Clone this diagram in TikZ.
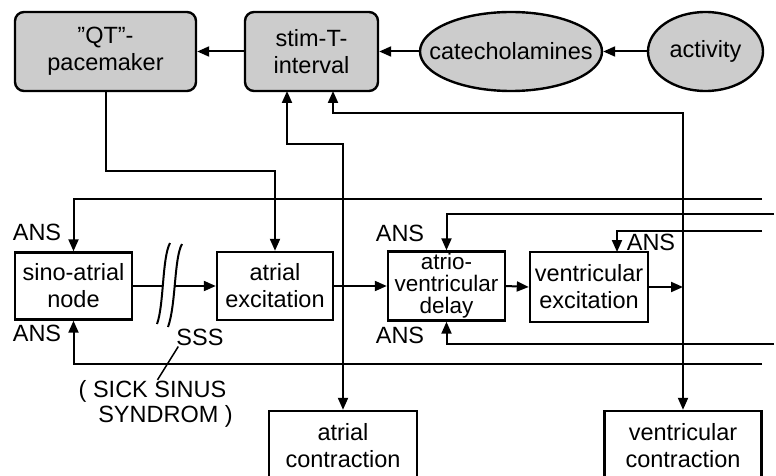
\documentclass[tikz,border=0pt]{standalone}
\usepackage{fontspec}
\setmainfont{Liberation Sans}
\usetikzlibrary{arrows.meta,shapes.geometric,calc}
\begin{document}
\begin{tikzpicture}[x=1pt,y=-1pt,
  font=\fontsize{23.5}{27}\selectfont,
  box/.style={draw,line width=2.4pt,rectangle,align=center,inner sep=0pt},
  gbox/.style={box,rounded corners=9pt,fill=gray!40},
  goval/.style={draw,line width=2.4pt,ellipse,fill=gray!40,inner sep=0pt},
  wire/.style={line width=2pt},
  arr/.style={wire,-{Triangle[length=12pt,width=10pt]}},
  lbl/.style={inner sep=0pt}]
\useasboundingbox (0,0) rectangle (776,476);
\clip (0,0) rectangle (776,476);

% upper control loop
\node[gbox,minimum width=181pt,minimum height=79pt] (qt) at (105.5,51.5) {\symbol{34}QT\symbol{34}-\\pacemaker};
\node[gbox,minimum width=133pt,minimum height=79pt] (stim) at (311.5,51.5) {stim-T-\\interval};
\node[goval,minimum width=182pt,minimum height=79pt] (cat) at (511,51.5) {\makebox[100pt]{catecholamines}};
\node[goval,minimum width=115pt,minimum height=79pt] (act) at (705.5,51.5) {\makebox[60pt]{activity}};

% conduction chain
\node[box,minimum width=117pt,minimum height=67pt] (sa) at (73.5,286) {sino-atrial\\node};
\node[box,minimum width=116pt,minimum height=68pt] (ae) at (275,286) {atrial\\excitation};
\node[box,minimum width=117pt,minimum height=69pt,font=\fontsize{22.5}{22}\selectfont] (av) at (446.5,286) {atrio-\\ventricular\\delay};
\node[box,minimum width=118pt,minimum height=70pt] (ve) at (589,287) {ventricular\\excitation};
\node[box,minimum width=148pt,minimum height=70pt] (ac) at (343,446) {atrial\\contraction};
\node[box,minimum width=157pt,minimum height=70pt] (vc) at (683,446) {ventricular\\contraction};

% labels
\node[lbl] (ans1) at (37,232) {ANS};
\node[lbl] (ans2) at (37,333) {ANS};
\node[lbl] (ans3) at (400,233) {ANS};
\node[lbl] (ans4) at (400,335) {ANS};
\node[lbl] (ans5) at (651,242) {ANS};
\node[lbl] (sss) at (200,337) {SSS};
\node[lbl] (sick1) at (152.5,391) {( SICK SINUS};
\node[lbl] (sick2) at (165.5,416) {SYNDROM )};

% coordinates of bends and junctions
\coordinate (b1) at (105.5,171);
\coordinate (j1) at (343,286);
\coordinate (k1) at (287,144);
\coordinate (si1) at (287,91);
\coordinate (j2) at (683,287);
\coordinate (k2) at (333,113);
\coordinate (si2) at (333,91);
\coordinate (g1) at (163,286);
\coordinate (g2) at (174,286);
\coordinate (r1) at (762,199);
\coordinate (r2) at (774,214);
\coordinate (r3) at (762,231);
\coordinate (vein) at (617,252);
\coordinate (r4) at (774,344);
\coordinate (r5) at (762,364);

% top arrows
\draw[arr] (act.west) -- (cat.east);
\draw[arr] (cat.west) -- (stim.east);
\draw[arr] (stim.west) -- (qt.east);
\draw[arr] (qt.south) -- (b1) -| (ae.north);

% atrial output
\draw[wire] (ae.east) -- (j1);
\draw[arr] (j1) -- (av.west);
\draw[arr] (j1) -- (ac.north);
\draw[arr] (j1) |- (k1) -- (si1);

% ventricular output
\draw[arr] (av.east) -- (ve.west);
\draw[arr] (ve.east) -- (j2);
\draw[arr] (j2) -- (vc.north);
\draw[arr] (j2) |- (k2) -- (si2);

% sino-atrial output with block symbol
\draw[wire] (sa.east) -- (g1);
\draw[arr] (g2) -- (ae.west);
\draw[wire] (170,243) .. controls (162,258) and (164,305) .. (157,324);
\draw[wire] (182,244) .. controls (174,258) and (176,305) .. (168,327);
\draw[line width=1.5pt] ($(sss.south west)+(2,1)$) -- ($(sick1.north)+(5,0)$);

% autonomic nervous system inputs
\draw[arr] (r1) -| (sa.north);
\draw[arr] (r2) -| (av.north);
\draw[arr] (r3) -| (vein);
\draw[arr] (r4) -| (av.south);
\draw[arr] (r5) -| (sa.south);
\end{tikzpicture}
\end{document}
